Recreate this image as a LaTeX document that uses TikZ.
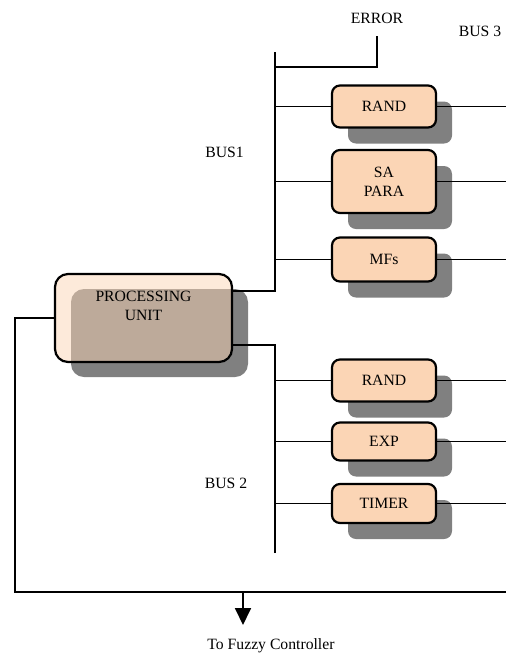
\documentclass[tikz,border=0pt]{standalone}
\usepackage{fontspec}
\setmainfont{Liberation Serif}
\usetikzlibrary{arrows.meta,positioning,shadows}
\definecolor{boxpeach}{RGB}{251,213,181}
\definecolor{shadowgray}{RGB}{128,128,128}

\tikzset{
  unitbox/.style={draw, line width=1.1pt, rounded corners=4pt, fill=boxpeach,
    minimum width=52pt, minimum height=21pt, align=center, inner sep=1pt,
    drop shadow={shadow xshift=8pt, shadow yshift=-8pt, fill=shadowgray, opacity=1}},
  pubox/.style={draw, line width=1.1pt, rounded corners=6.5pt, fill=boxpeach,
    fill opacity=0.5, draw opacity=1, minimum width=88.5pt, minimum height=44pt,
    drop shadow={shadow xshift=8pt, shadow yshift=-7.5pt, fill=shadowgray, opacity=1}},
  lbl/.style={inner sep=0pt, align=center},
  wire/.style={line width=0.9pt}
}

\begin{document}
\begin{tikzpicture}[x=0.5pt, y=-0.5pt, font=\fontsize{7.85}{9.5}\selectfont]
  \useasboundingbox (0,0) rectangle (506,655);

  % processing unit
  \node[pubox] (pu) at (143.5,318) {};
  \node[lbl] (putext) at ([yshift=-16.25pt]pu.north) {PROCESSING\\UNIT};

  % bus 1 side
  \node[unitbox] (rand1) at (384,106.5) {RAND};
  \node[unitbox, minimum height=31.5pt] (sapara) at (384,181.5) {SA\\PARA};
  \node[unitbox, minimum height=22pt] (mfs) at (384,259.5) {MFs};

  % bus 2 side
  \node[unitbox] (rand2) at (384,380.5) {RAND};
  \node[unitbox, minimum height=19pt] (exp) at (384,441.5) {EXP};
  \node[unitbox, minimum height=19.5pt] (timer) at (384,503.5) {TIMER};

  % labels
  \node[lbl] (error) at (377,18) {ERROR};
  \node[lbl] (bus3) at (480,31) {BUS 3};
  \node[lbl] (bus1) at (224.5,152) {BUS1};
  \node[lbl] (bus2) at (226,483) {BUS 2};
  \node[lbl] (fuzzy) at (271,646) {To Fuzzy Controller};

  \coordinate (b1top) at (275,52);
  \coordinate (b1bot) at (275,291);
  \coordinate (b2top) at (275,345);
  \coordinate (b2bot) at (275,553);
  \coordinate (errtop) at (377,36);
  \coordinate (errbot) at (377,67);
  \coordinate (rightedge) at (506,0);
  \coordinate (leftcorner) at (15,592);
  \coordinate (arrowtop) at (243,592);
  \coordinate (arrowtip) at (243,625);

  % buses
  \draw[wire] (b1top) -- (b1bot) -- (b1bot -| pu.east);
  \draw[wire] (b2bot) -- (b2top) -- (b2top -| pu.east);
  \draw[wire] (errtop) -- (errbot) -- (errbot -| b1top);

  \foreach \u in {rand1,sapara,mfs}
    \draw[wire] (\u.west -| b1top) -- (\u.west);
  \foreach \u in {rand2,exp,timer}
    \draw[wire] (\u.west -| b2top) -- (\u.west);
  \foreach \u in {rand1,sapara,mfs,rand2,exp,timer}
    \draw[wire] (\u.east) -- (\u.east -| rightedge);

  % return loop
  \draw[wire] (pu.west) -| (leftcorner) -- (leftcorner -| rightedge);
  \draw[wire, -{Triangle[width=8pt,length=8.5pt]}] (arrowtop) -- (arrowtip);
\end{tikzpicture}
\end{document}
